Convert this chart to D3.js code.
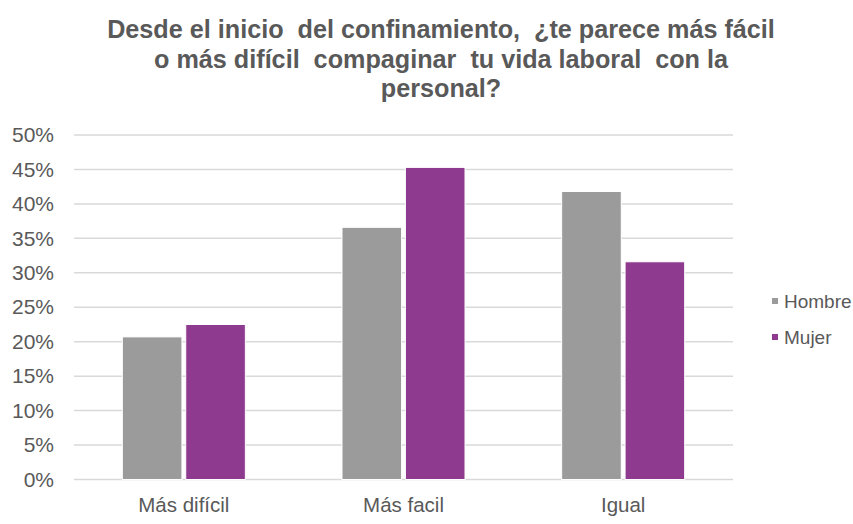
<!DOCTYPE html>
<html>
<head>
<meta charset="utf-8">
<script src="https://cdn.jsdelivr.net/npm/d3@7"></script>
<style>
  body { margin: 0; background: #fff; }
  text { font-family: "Liberation Sans", Arial, sans-serif; fill: #595959; }
</style>
</head>
<body>
<div class="plot"></div>
<script>
// Data
const categories = ["Más difícil", "Más facil", "Igual"];
const seriesNames = ["Hombre", "Mujer"];
const hombre = [20.7, 36.6, 41.8];
const mujer = [22.5, 45.3, 31.6];
const yTicks = [0, 5, 10, 15, 20, 25, 30, 35, 40, 45, 50];
const titleLines = [
    "Desde el inicio  del confinamiento,  ¿te parece más fácil",
    "o más difícil  compaginar  tu vida laboral  con la",
    "personal?"
];
const colors = ["#9b9b9b", "#8e3a8f"];

const W = 853, H = 524;
const margin = {top: 135, right: 120, bottom: 44.5, left: 74};
const w = W - margin.left - margin.right;
const h = H - margin.top - margin.bottom;

const svg = d3.select(".plot")
    .append("svg")
        .attr("width", W)
        .attr("height", H);

// Title
svg.append("g")
    .selectAll("text")
    .data(titleLines)
    .enter()
    .append("text")
        .attr("x", 441)
        .attr("y", (d, i) => 38 + i * 29.5)
        .attr("text-anchor", "middle")
        .attr("font-weight", "bold")
        .attr("font-size", "25.2px")
        .style("white-space", "pre")
        .text(d => d);

const g = svg.append("g")
    .attr("transform", "translate(" + margin.left + "," + margin.top + ")");

const x = d3.scaleBand()
    .domain(categories)
    .range([0, w])
    .paddingInner(0)
    .paddingOuter(0);

const x1 = d3.scaleBand()
    .domain(seriesNames)
    .range([x.bandwidth() * 0.22, x.bandwidth() * 0.78])
    .paddingInner(0.06);

const y = d3.scaleLinear()
    .domain([0, 50])
    .range([h, 0]);

// Gridlines
g.append("g")
    .selectAll("line")
    .data(yTicks)
    .enter()
    .append("line")
        .attr("x1", 0)
        .attr("x2", w)
        .attr("y1", d => y(d))
        .attr("y2", d => y(d))
        .attr("stroke", "#d9d9d9")
        .attr("stroke-width", 1.5);

// Y axis
const yAxis = d3.axisLeft(y)
    .tickValues(yTicks)
    .tickFormat(d => d + "%")
    .tickSize(0)
    .tickPadding(20);
g.append("g")
    .call(yAxis)
    .call(s => s.select(".domain").remove())
    .selectAll("text")
        .attr("font-size", "21px")
        .style("font-family", "Liberation Sans, Arial, sans-serif")
        .attr("fill", "#595959");

// X axis
const xAxis = d3.axisBottom(x)
    .tickSize(0)
    .tickPadding(18);
g.append("g")
    .attr("transform", "translate(0," + h + ")")
    .call(xAxis)
    .call(s => s.select(".domain").remove())
    .selectAll("text")
        .attr("font-size", "20.5px")
        .style("font-family", "Liberation Sans, Arial, sans-serif")
        .attr("fill", "#595959");

// Bars
const rows = categories.map((c, i) => ({cat: c, values: [hombre[i], mujer[i]]}));
const groups = g.selectAll(".grp")
    .data(rows)
    .enter()
    .append("g")
        .attr("class", "grp")
        .attr("transform", d => "translate(" + x(d.cat) + ",0)");

groups.selectAll("rect")
    .data(d => d.values.map((v, j) => ({name: seriesNames[j], value: v, color: colors[j]})))
    .enter()
    .append("rect")
        .attr("x", d => x1(d.name))
        .attr("y", d => y(d.value))
        .attr("width", x1.bandwidth())
        .attr("height", d => h - y(d.value))
        .attr("fill", d => d.color)
        .attr("stroke", "#fff")
        .attr("stroke-width", 1);

// Legend
const legend = svg.append("g")
    .attr("transform", "translate(772,301)");
const items = legend.selectAll("g")
    .data(seriesNames)
    .enter()
    .append("g")
        .attr("transform", (d, i) => "translate(0," + i * 36 + ")");
items.append("rect")
    .attr("x", 0)
    .attr("y", -3)
    .attr("width", 6)
    .attr("height", 6)
    .attr("fill", (d, i) => colors[i]);
items.append("text")
    .attr("x", 12)
    .attr("y", 7)
    .attr("font-size", "19px")
    .text(d => d);
</script>
</body>
</html>
